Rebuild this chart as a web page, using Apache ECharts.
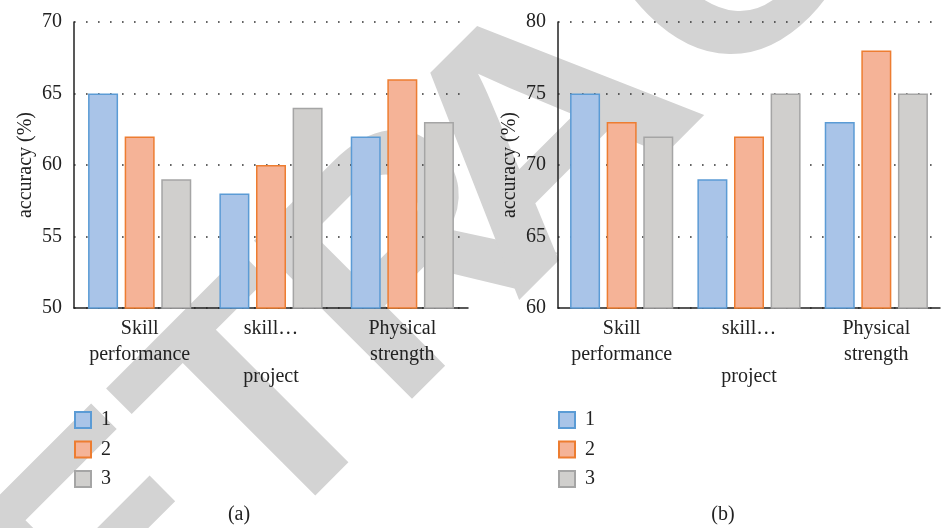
<!DOCTYPE html>
<html>
<head>
<meta charset="utf-8">
<script src="https://cdn.jsdelivr.net/npm/echarts@6/dist/echarts.min.js"></script>
<style>
  html, body { margin: 0; padding: 0; background: #fff; }
  #chart { width: 941px; height: 528px; }
</style>
</head>
<body>
<div id="chart"></div>
<script>
// Categories shared by both panels
const categories = ['Skill\nperformance', 'skill…', 'Physical\nstrength'];
const seriesNames = ['1', '2', '3'];

// Panel (a) accuracy values (%)
const panelA1 = [65, 58, 62];
const panelA2 = [62, 60, 66];
const panelA3 = [59, 64, 63];

// Panel (b) accuracy values (%)
const panelB1 = [75, 69, 73];
const panelB2 = [73, 72, 78];
const panelB3 = [72, 75, 75];

// Y-axis ranges
const yRangeA = [50, 70];
const yRangeB = [60, 80];
const yStep = 5;

const FONT = '"Liberation Serif", "DejaVu Serif", serif';
const fills = ['#a9c4e8', '#f5b397', '#d0cfcd'];
const borders = ['#5b9bd5', '#ed7d31', '#a5a5a5'];

// Diagonal stamp word, one glyph per entry
const stampLetters = ['R', 'E', 'T', 'R', 'A', 'C', 'T', 'E', 'D'];

function xAxis(gridIndex) {
  return {
    type: 'category', gridIndex, data: categories,
    name: 'project', nameLocation: 'middle', nameGap: 59, nameMoveOverlap: false,
    nameTextStyle: { fontFamily: FONT, fontSize: 20, color: '#222' },
    axisLine: { lineStyle: { color: '#222', width: 1.5 } },
    axisTick: { show: false },
    axisLabel: { interval: 0, fontFamily: FONT, fontSize: 20, color: '#222', lineHeight: 26, margin: 8 },
    splitLine: { show: false }
  };
}
function yAxis(gridIndex, range) {
  return {
    type: 'value', gridIndex, min: range[0], max: range[1], interval: yStep,
    name: 'accuracy (%)', nameLocation: 'middle', nameGap: 38,
    nameTextStyle: { fontFamily: FONT, fontSize: 20, color: '#222' },
    axisLine: { show: true, lineStyle: { color: '#222', width: 1.5 } },
    axisTick: { show: false },
    axisLabel: { fontFamily: FONT, fontSize: 20, color: '#222', margin: 12 },
    splitLine: { show: true, lineStyle: { type: [1.6, 10.4], color: '#333', width: 1.6 } }
  };
}
function bars(idx, name, values, color, border) {
  return {
    type: 'bar', name, data: values, xAxisIndex: idx, yAxisIndex: idx,
    barWidth: 30, barGap: '22%',
    itemStyle: { color, borderColor: border, borderWidth: 1.5 }
  };
}
function legend(left) {
  return {
    data: seriesNames, orient: 'vertical', left, top: 410, padding: 0,
    icon: 'rect', itemWidth: 16, itemHeight: 16, itemGap: 9.5,
    selectedMode: false,
    textStyle: { fontFamily: FONT, fontSize: 20, color: '#222', padding: [0, 0, 0, 5] }
  };
}

const aSets = [panelA1, panelA2, panelA3];
const bSets = [panelB1, panelB2, panelB3];
const series = [];
aSets.forEach((v, i) => series.push(bars(0, seriesNames[i], v, fills[i], borders[i])));
bSets.forEach((v, i) => series.push(bars(1, seriesNames[i], v, fills[i], borders[i])));

// Glyph placement along the rotated baseline: [offset, horizontal scale, vertical nudge]
const stampLayout = [
  [-532, 1, 0], [-310, 1, 0], [-104, 1, 0], [105, 1, 0], [286, 1.2, 6],
  [552, 1, 8], [763, 1, 0], [967, 1, 0], [1190, 1, 0]
];
const stamp = {
  type: 'group', x: 342, y: 342, rotation: Math.PI / 4, z: -10,
  children: stampLetters.map((ch, i) => ({
    type: 'text', x: stampLayout[i][0], y: stampLayout[i][2], scaleX: stampLayout[i][1], z: -10,
    style: {
      text: ch, fill: '#d3d3d3',
      font: 'bold 325px "Liberation Sans", sans-serif',
      textAlign: 'center', textVerticalAlign: 'middle'
    }
  }))
};

const chart = echarts.init(document.getElementById('chart'), null, { renderer: 'canvas' });
chart.setOption({
  animation: false,
  backgroundColor: '#fff',
  grid: [
    { left: 74, top: 22, width: 394, height: 286 },
    { left: 558, top: 22, width: 382, height: 286 }
  ],
  xAxis: [xAxis(0), xAxis(1)],
  yAxis: [yAxis(0, yRangeA), yAxis(1, yRangeB)],
  legend: [legend(74), legend(558)],
  graphic: [
    stamp,
    { type: 'text', x: 239, y: 515, style: { text: '(a)', fill: '#222', font: '20px ' + FONT, textAlign: 'center', textVerticalAlign: 'middle' } },
    { type: 'text', x: 723, y: 515, style: { text: '(b)', fill: '#222', font: '20px ' + FONT, textAlign: 'center', textVerticalAlign: 'middle' } }
  ],
  series
});
</script>
</body>
</html>
